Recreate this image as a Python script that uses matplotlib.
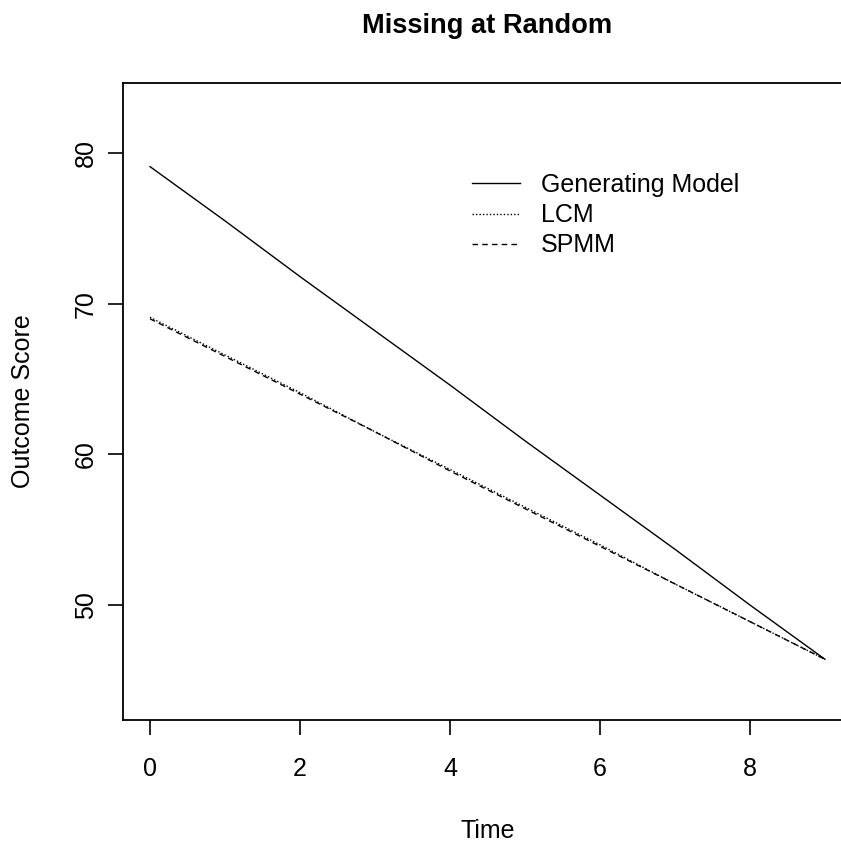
import matplotlib
matplotlib.use("Agg")
import matplotlib.pyplot as plt

plt.rcParams['font.family'] = ['Liberation Sans', 'DejaVu Sans']

# Predicted trajectories at each measurement occasion
time = [0, 1, 2, 3, 4, 5, 6, 7, 8, 9]
generating = [79.1, 75.5, 71.8, 68.2, 64.6, 60.9, 57.3, 53.7, 50.0, 46.4]
lcm = [69.1, 66.6, 64.1, 61.5, 59.0, 56.5, 54.0, 51.4, 48.9, 46.4]
spmm = [69.0, 66.5, 64.0, 61.5, 58.9, 56.4, 53.9, 51.4, 48.9, 46.4]

series_labels = ["Generating Model", "LCM", "SPMM"]
x_ticks = [0, 2, 4, 6, 8]
y_ticks = [50, 60, 70, 80]

W, H = 841, 842
fig = plt.figure(figsize=(W / 100, H / 100), dpi=100)
left, right, top, bottom = 123, 852, 83, 720
ax = fig.add_axes([left / W, 1 - bottom / H, (right - left) / W, (bottom - top) / H])

ax.plot(time, generating, color='black', lw=1.0, ls='-', label=series_labels[0])
ax.plot(time, lcm, color='black', lw=1.0, ls=(0, (1, 1.5)), label=series_labels[1])
ax.plot(time, spmm, color='black', lw=1.0, ls=(0, (4, 3)), label=series_labels[2])

ax.set_xlim(-0.36, 9.36)
ax.set_ylim(42.37, 84.65)
ax.set_xticks(x_ticks)
ax.set_yticks(y_ticks)
ax.set_xticklabels([str(v) for v in x_ticks], fontsize=18)
ax.set_yticklabels([str(v) for v in y_ticks], fontsize=18, rotation=90, va='center')
ax.tick_params(direction='out', length=11, width=1.2, color='black')
ax.tick_params(axis='x', pad=15.5)
ax.tick_params(axis='y', pad=7)
for s in ax.spines.values():
    s.set_linewidth(1.3)
    s.set_color('black')

ax.set_xlabel("Time", fontsize=18, labelpad=27.5)
ax.set_ylabel("Outcome Score", fontsize=18, labelpad=28)
ax.set_title("Missing at Random", fontsize=19.6, fontweight='bold', pad=36)

ax.legend(loc='upper left',
          bbox_to_anchor=((472 - left) / (right - left), (bottom - 173) / (bottom - top)),
          frameon=False, fontsize=18, handlelength=1.9, handletextpad=0.85,
          labelspacing=0.25, borderaxespad=0, borderpad=0)

fig.savefig("out.png", dpi=100)
